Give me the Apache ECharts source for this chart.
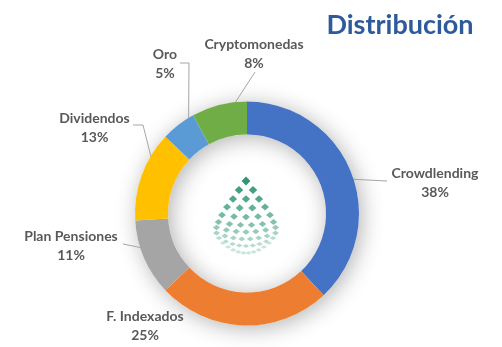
<!DOCTYPE html>
<html>
<head>
<meta charset="utf-8">
<script src="https://cdn.jsdelivr.net/npm/echarts@6/dist/echarts.min.js"></script>
<style>html,body{margin:0;padding:0;background:#fff;}#c{width:502px;height:347px;}</style>
</head>
<body>
<div id="c"></div>
<script>
const categories = ['Crowdlending', 'F. Indexados', 'Plan Pensiones', 'Dividendos', 'Oro', 'Cryptomonedas'];
const values = [38, 25, 11, 13, 5, 8];
const colors = ['#4472C4', '#ED7D31', '#A5A5A5', '#FFC000', '#5B9BD5', '#70AD47'];
const titleText = 'Distribución';

// layout (not data)
const CX = 247, CY = 213.5, R_IN = 79, R_OUT = 112;
const labelLayouts = [
  { x: 435, y: 182.5, pts: [[387, 181], [387, 181]] },
  { x: 145, y: 325.5, pts: null },
  { x: 71, y: 246, pts: [[123, 244], [123, 244]] },
  { x: 94.5, y: 127.5, pts: [[133, 125], [143, 125]] },
  { x: 165, y: 64, pts: [[180, 63], [189, 63]] },
  { x: 254, y: 53.5, pts: [[255, 72], [255, 72]] }
];

const total = values.reduce((a, b) => a + b, 0);
function midPoint(idx) {
  let cum = 0;
  for (let i = 0; i < idx; i++) cum += values[i];
  const frac = (cum + values[idx] / 2) / total;
  const a = frac * 2 * Math.PI;
  const r = (R_IN + R_OUT) / 2;
  return [CX + r * Math.sin(a), CY - r * Math.cos(a)];
}

// decorative logo (shield of small diamonds)
const logo = [];
logo.push({ type: 'rect', shape: { x: 211, y: 173, width: 71, height: 89 }, style: { fill: '#ffffff' }, z: 50 });
const logoRowY = [181, 190, 199, 208, 217, 225, 232, 239, 246, 253];
const logoHalfW = [0, 7, 13, 19, 24, 27.5, 29.5, 29.5, 27, 23];
const logoCurve = [0, 0, 0, 1, 2, 3, 4.5, 6, 8, 10];
const c0 = [50, 150, 116], c1 = [200, 230, 219];
for (let r = 0; r < logoRowY.length; r++) {
  const n = r + 1;
  const t = r / (logoRowY.length - 1);
  const hw = 4.4 - 1.2 * t, hh = 4.4 - 2.6 * t;
  const col = 'rgb(' + c0.map((v, k) => Math.round(v + (c1[k] - v) * t)).join(',') + ')';
  for (let k = 0; k < n; k++) {
    const u = n === 1 ? 0 : -1 + 2 * k / (n - 1);
    const x = 246 + u * logoHalfW[r];
    const y = logoRowY[r] - logoCurve[r] * u * u;
    logo.push({ type: 'polygon', shape: { points: [[x, y - hh], [x + hw, y], [x, y + hh], [x - hw, y]] }, style: { fill: col }, z: 51 });
  }
}
logo.push({
  type: 'text', x: 400, y: 25, z: 60,
  style: { text: titleText, fill: '#2E5A9C', font: 'bold 27px Lato', textAlign: 'center', textVerticalAlign: 'middle' }
});

const chart = echarts.init(document.getElementById('c'), null, { renderer: 'canvas' });
chart.setOption({
  animation: false,
  backgroundColor: '#ffffff',
  graphic: logo,
  series: [
    {
      type: 'pie', silent: true, z: 1,
      center: [CX, CY], radius: [R_IN, R_OUT],
      label: { show: false }, labelLine: { show: false },
      itemStyle: { color: '#ffffff', shadowBlur: 22, shadowColor: 'rgba(0,0,0,0.3)', shadowOffsetX: 3, shadowOffsetY: 3 },
      data: [{ value: 1 }]
    },
    {
      type: 'pie', z: 2,
      center: [CX, CY], radius: [R_IN, R_OUT],
      startAngle: 90, clockwise: true,
      avoidLabelOverlap: false,
      itemStyle: { borderWidth: 0 },
      label: {
        show: true, formatter: '{b}\n{c}%',
        color: '#595959', fontFamily: 'Lato', fontWeight: 'bold', fontSize: 14, lineHeight: 19, align: 'center'
      },
      labelLine: { show: true, lineStyle: { color: '#A6A6A6', width: 1 } },
      labelLayout: function (p) {
        const L = labelLayouts[p.dataIndex];
        const out = { x: L.x, y: L.y, align: 'center', verticalAlign: 'middle' };
        if (L.pts) {
          out.labelLinePoints = [L.pts[0], L.pts[1], midPoint(p.dataIndex)];
        }
        return out;
      },
      data: categories.map((n, i) => ({
        name: n, value: values[i], itemStyle: { color: colors[i] },
        labelLine: { show: labelLayouts[i].pts !== null }
      }))
    }
  ]
});
</script>
</body>
</html>
